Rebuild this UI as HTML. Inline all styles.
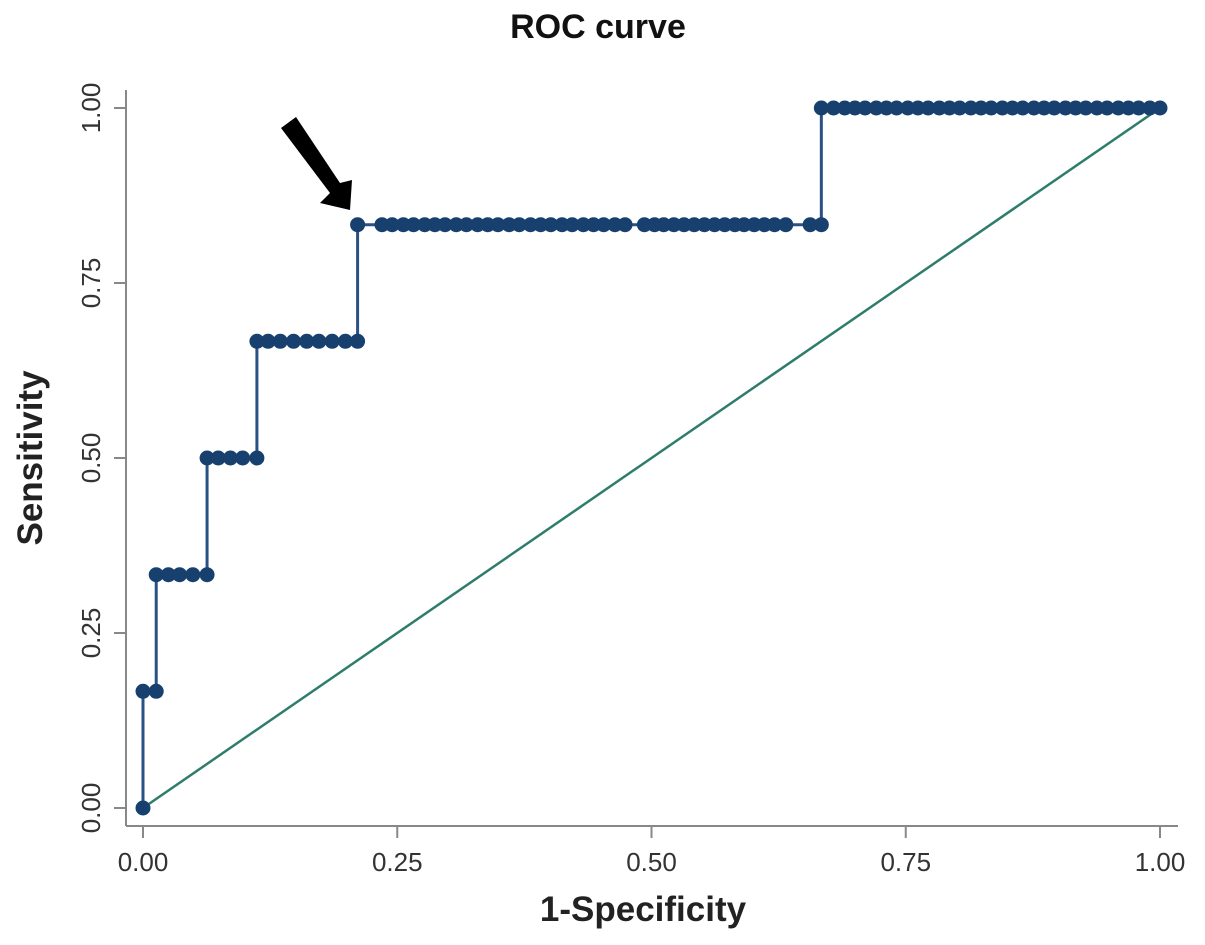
<!DOCTYPE html>
<html><head><meta charset="utf-8"><style>
body{margin:0;background:#fff;width:1205px;height:940px;overflow:hidden}
text{font-family:"Liberation Sans",sans-serif}
</style></head><body>
<svg id="chart" width="1205" height="940" viewBox="0 0 1205 940">
<text x="598" y="38" text-anchor="middle" font-size="34" font-weight="bold" fill="#111">ROC  curve</text>
<line x1="126" y1="90" x2="126" y2="826" stroke="#888" stroke-width="2"/>
<line x1="126" y1="826" x2="1178" y2="826" stroke="#888" stroke-width="2"/>
<g id="ticks"></g>
<text x="643" y="921" text-anchor="middle" font-size="35" font-weight="bold" fill="#222">1-Specificity</text>
<text transform="translate(42,458) rotate(-90)" text-anchor="middle" font-size="35" font-weight="bold" fill="#222">Sensitivity</text>
<g id="plot"></g>
<polygon points="281,128 296,117 340,183 352,180 350,210 320,203 330,193" fill="#000"/>
</svg>
<script>
const xTicks=[0,0.25,0.5,0.75,1];
const yTicks=[0,0.25,0.5,0.75,1];
const tickLabels=["0.00","0.25","0.50","0.75","1.00"];
const rocX=[0,0,0.013,0.013,0.025,0.036,0.049,0.063,0.063,0.074,0.086,0.098,0.112,
0.112,0.123,0.135,0.148,0.161,0.173,0.186,0.199,0.211,
0.211,0.235,0.245,0.256,0.266,0.277,0.287,0.297,0.308,0.318,0.329,0.339,0.349,0.360,0.370,0.381,0.391,0.401,0.412,0.422,0.433,0.443,0.453,0.464,0.474,
0.493,0.503,0.512,0.522,0.532,0.542,0.552,0.562,0.572,0.582,0.591,0.601,0.611,0.621,0.632,0.656,0.667,
0.667,0.679,0.690,0.700,0.710,0.721,0.731,0.741,0.752,0.762,0.772,0.783,0.793,0.803,0.814,0.824,0.834,0.845,0.855,0.865,0.876,0.886,0.896,0.907,0.917,0.927,0.938,0.948,0.959,0.969,0.979,0.990,1.0];
const rocY=[0,0.1667,0.1667,0.3333,0.3333,0.3333,0.3333,0.3333,0.5,0.5,0.5,0.5,0.5,
0.6667,0.6667,0.6667,0.6667,0.6667,0.6667,0.6667,0.6667,0.6667,
0.8333,0.8333,0.8333,0.8333,0.8333,0.8333,0.8333,0.8333,0.8333,0.8333,0.8333,0.8333,0.8333,0.8333,0.8333,0.8333,0.8333,0.8333,0.8333,0.8333,0.8333,0.8333,0.8333,0.8333,0.8333,
0.8333,0.8333,0.8333,0.8333,0.8333,0.8333,0.8333,0.8333,0.8333,0.8333,0.8333,0.8333,0.8333,0.8333,0.8333,0.8333,0.8333,
1,1,1,1,1,1,1,1,1,1,1,1,1,1,1,1,1,1,1,1,1,1,1,1,1,1,1,1,1,1,1,1,1];
const NS="http://www.w3.org/2000/svg";
const sx=v=>143+v*1017, sy=v=>808-v*700;
const ticks=document.getElementById('ticks'), plot=document.getElementById('plot');
function mk(tag,attrs,parent){const e=document.createElementNS(NS,tag);for(const k in attrs)e.setAttribute(k,attrs[k]);parent.appendChild(e);return e;}
xTicks.forEach((v,i)=>{
 const t=mk('line',{x1:sx(v),x2:sx(v),y1:826,y2:838,stroke:'#888','stroke-width':2},ticks);
 
 
 const l=mk('text',{x:sx(v),y:871,'text-anchor':'middle','font-size':26,fill:'#333'},ticks);
 l.textContent=tickLabels[i];
 
 
});
yTicks.forEach((v,i)=>{
 const t=mk('line',{x1:114,x2:126,y1:sy(v),y2:sy(v),stroke:'#888','stroke-width':2},ticks);
 
 
 const l=mk('text',{transform:`translate(100,${sy(v)}) rotate(-90)`,'text-anchor':'middle','font-size':26,fill:'#333'},ticks);
 l.textContent=tickLabels[i];
 
 
});
const diag=mk('line',{x1:sx(0),y1:sy(0),x2:sx(1),y2:sy(1),stroke:'#2e7d6b','stroke-width':2.5},plot);


let d='';
rocX.forEach((x,i)=>{d+=(i?'L':'M')+sx(x)+' '+sy(rocY[i])+' ';});
const path=mk('path',{d:d,fill:'none',stroke:'#2a5183','stroke-width':3},plot);


rocX.forEach((x,i)=>{
 const c=mk('circle',{cx:sx(x),cy:sy(rocY[i]),r:7.5,fill:'#17406e'},plot);
 
 
});
</script>
</body></html>
